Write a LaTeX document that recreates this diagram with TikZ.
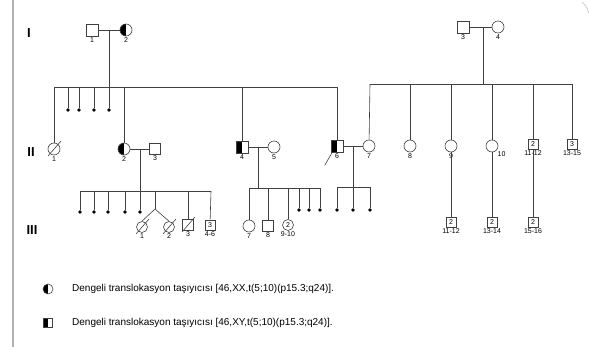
\documentclass[tikz,border=0pt]{standalone}
\usepackage{fontspec}
\setmainfont{Liberation Sans}
\usetikzlibrary{calc}
\tikzset{
  ln/.style={draw=black!75, line width=0.6pt},
  male/.style={rectangle, draw=black!75, line width=0.6pt, minimum size=12pt, inner sep=0pt},
  female/.style={circle, draw=black!75, line width=0.6pt, minimum size=12pt, inner sep=0pt},
  smallm/.style={male, minimum size=10pt, font=\fontsize{7}{7}\selectfont},
  smallf/.style={female, minimum size=11pt, font=\fontsize{7}{7}\selectfont},
  carrier/.style={path picture={\fill[black] (path picture bounding box.south west) rectangle (path picture bounding box.north);}},
  dotn/.style={circle, fill=black, minimum size=3.8pt, inner sep=0pt},
  lbl/.style={font=\fontsize{7}{7}\selectfont, inner sep=1pt},
  gen/.style={font=\fontsize{13}{13}\selectfont\bfseries, inner sep=0pt},
  legtxt/.style={font=\fontsize{10}{10}\selectfont, anchor=west, inner sep=0pt},
}
\newcommand\deadslash[1]{\draw[ln] ($(#1.center)+(-6,7)$) -- ($(#1.center)+(7,-8)$);}
\begin{document}
\begin{tikzpicture}[x=1pt,y=-1pt]
\useasboundingbox (0,0) rectangle (589,347);
\draw[black!30, line width=1.4pt] (13,0) -- (13,347);
\draw[black!25, line width=0.6pt] (582,2) .. controls (586,6) .. (589,13);

% generation labels
\node[gen] (gI) at (29,33) {I};
\node[gen] (gII) at (31,152) {II};
\node[gen] (gIII) at (32,230) {III};

% generation I
\node[male, label={[lbl]below:1}] (I1) at (92,30) {};
\node[female, carrier, label={[lbl]below:2}] (I2) at (126,30) {};
\node[male, label={[lbl]below:3}] (I3) at (463,27) {};
\node[female, label={[lbl]below:4}] (I4) at (498,27) {};
\draw[ln] (I1) -- (I2);
\draw[ln] (I3) -- (I4);
\coordinate (m1) at (109,30);
\coordinate (m2) at (483,27);

% sibship II left
\coordinate (s1L) at (55,87);
\coordinate (s1R) at (337,87);
\draw[ln] (s1L) -- (s1R);
\node[dotn] (d1) at (68,110) {};
\node[dotn] (d2) at (79,110) {};
\node[dotn] (d3) at (94,110) {};
\node[dotn] (d4) at (109,110) {};
\draw[ln] (m1) -- (d4);
\draw[ln] (d1 |- s1L) -- (d1);
\draw[ln] (d2 |- s1L) -- (d2);
\draw[ln] (d3 |- s1L) -- (d3);

% generation II
\node[female, label={[lbl]below:1}] (II1) at (54,149) {};
\deadslash{II1}
\node[female, carrier, label={[lbl]below:2}] (II2) at (124,149) {};
\node[male, minimum size=11pt, label={[lbl]below:3}] (II3) at (155,149) {};
\node[male, carrier, label={[lbl]below:4}] (II4) at (242,147) {};
\node[female, label={[lbl]below:5}] (II5) at (274,147) {};
\node[male, carrier, label={[lbl]below:6}] (II6) at (337,146) {};
\node[female, label={[lbl]below:7}] (II7) at (369,146) {};
\node[female, label={[lbl]below:8}] (II8) at (410,146) {};
\node[female, label={[lbl]below:9}] (II9) at (451,146) {};
\node[female, label={[lbl]below right=-1pt and -3pt:10}] (II10) at (492,146) {};
\node[smallm, label={[lbl]below:11-12}] (II11) at (533,144) {2};
\node[smallm, label={[lbl]below:13-15}] (II13) at (572,144) {3};
\draw[ln] (II1 |- s1L) -- (II1);
\draw[ln] (II2 |- s1L) -- (II2);
\draw[ln] (II4 |- s1L) -- (II4);
\draw[ln] (s1R) -- (II6);
\draw[ln] ($(II6.south west)+(-6,13)$) -- ($(II6.south west)+(1,1)$);

% sibship II right
\coordinate (s2L) at (370,84);
\coordinate (s2R) at (572,84);
\draw[ln] (s2L) -- (s2R);
\draw[ln] (m2) -- (m2 |- s2L);
\draw[ln] (s2L) -- (II7);
\draw[ln] (II8 |- s2L) -- (II8);
\draw[ln] (II9 |- s2L) -- (II9);
\draw[ln] (II10 |- s2L) -- (II10);
\draw[ln] (II11 |- s2L) -- (II11);
\draw[ln] (s2R) -- (II13);

% marriages II
\draw[ln] (II2) -- (II3);
\draw[ln] (II4) -- (II5);
\draw[ln] (II6) -- (II7);
\coordinate (m3) at (140,149);
\coordinate (m4) at (258,147);
\coordinate (m5) at (353,146);

% generation III left
\coordinate (s3L) at (80,191);
\coordinate (s3R) at (211,191);
\draw[ln] (s3L) -- (s3R);
\node[dotn] (e1) at (80,212) {};
\node[dotn] (e2) at (94,212) {};
\node[dotn] (e3) at (108,212) {};
\node[dotn] (e4) at (125,212) {};
\node[dotn] (e5) at (140,212) {};
\draw[ln] (m3) -- (e5);
\draw[ln] (s3L) -- (e1);
\draw[ln] (e2 |- s3L) -- (e2);
\draw[ln] (e3 |- s3L) -- (e3);
\draw[ln] (e4 |- s3L) -- (e4);
\coordinate (tw) at (155,209);
\draw[ln] (tw |- s3L) -- (tw);
\node[female, minimum size=11pt, label={[lbl]below:1}] (III1) at (142,227) {};
\node[female, minimum size=11pt, label={[lbl]below:2}] (III2) at (169,227) {};
\node[male, minimum size=11pt, label={[lbl]below:3}] (III3) at (188,225) {};
\node[smallm, label={[lbl]below:4-6}] (III4) at (210,225) {3};
\draw[ln] (tw) -- (III1.north);
\draw[ln] (tw) -- (III2.north);
\draw[ln] (III3 |- s3L) -- (III3);
\draw[ln] (s3R) -- (III4);
\deadslash{III1}
\deadslash{III2}
\deadslash{III3}

% generation III middle
\coordinate (s4L) at (249,188);
\coordinate (s4R) at (320,188);
\draw[ln] (s4L) -- (s4R);
\draw[ln] (m4) -- (m4 |- s4L);
\node[female, label={[lbl]below:7}] (III7) at (249,226) {};
\node[male, minimum size=11pt, label={[lbl]below:8}] (III8) at (268,226) {};
\node[smallf, label={[lbl]below:9-10}] (III9) at (288,225) {2};
\node[dotn] (f1) at (299,210) {};
\node[dotn] (f2) at (309,210) {};
\node[dotn] (f3) at (320,210) {};
\draw[ln] (s4L) -- (III7);
\draw[ln] (III8 |- s4L) -- (III8);
\draw[ln] (III9 |- s4L) -- (III9);
\draw[ln] (f1 |- s4L) -- (f1);
\draw[ln] (f2 |- s4L) -- (f2);
\draw[ln] (s4R) -- (f3);

% generation III right
\coordinate (s5L) at (337,187);
\coordinate (s5R) at (370,187);
\draw[ln] (s5L) -- (s5R);
\node[dotn] (g1) at (337,210) {};
\node[dotn] (g2) at (353,210) {};
\node[dotn] (g3) at (370,210) {};
\draw[ln] (m5) -- (g2);
\draw[ln] (s5L) -- (g1);
\draw[ln] (s5R) -- (g3);

\node[smallm, label={[lbl]below:11-12}] (III11) at (451,222) {2};
\node[smallm, label={[lbl]below:13-14}] (III13) at (492,222) {2};
\node[smallm, label={[lbl]below:15-16}] (III15) at (533,222) {2};
\draw[ln] (II9) -- (III11);
\draw[ln] (II10) -- (III13);
\draw[ln] (II11) -- (III15);

% legend
\node[female, carrier, minimum size=10pt] (L1) at (48,289) {};
\node[male, carrier, minimum size=9pt] (L2) at (48,323) {};
\node[legtxt] (T1) at (72,289) {Dengeli translokasyon taşıyıcısı [46,XX,t(5;10)(p15.3;q24)].};
\node[legtxt] (T2) at (72,323) {Dengeli translokasyon taşıyıcısı [46,XY,t(5;10)(p15.3;q24)].};
\end{tikzpicture}
\end{document}
